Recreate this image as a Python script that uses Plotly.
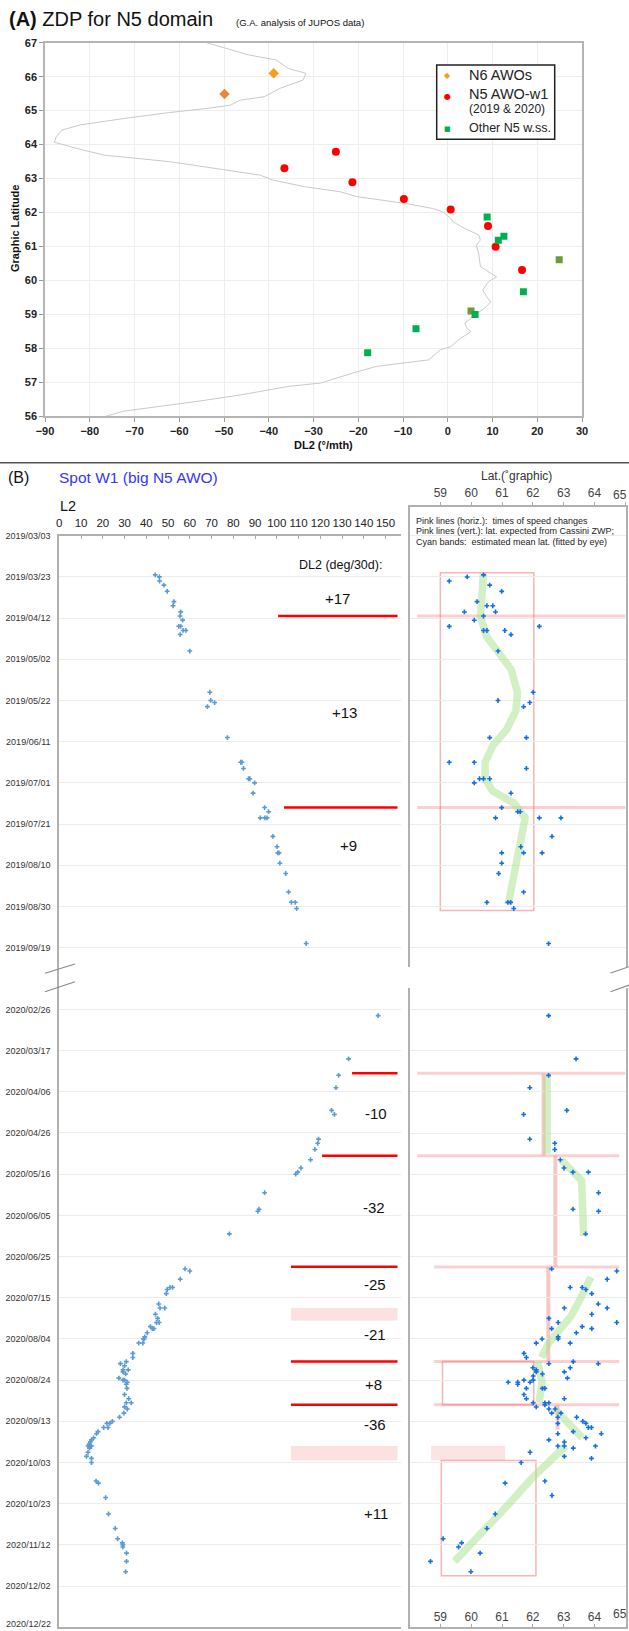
import plotly.graph_objects as go
from datetime import date

W, H = 629, 1631
FONT = "Liberation Sans, Arial, sans-serif"


def px(x):
    return x / W


def py(y):
    return 1 - y / H


# ---------------- Panel A data ----------------
zwp_dl2 = [-53.9, -48.1, -44.5, -38.3, -35.6, -31.7, -32.3, -37.4, -41.0, -46.3, -48.6, -53.5,
           -62.4, -72.3, -82.1, -86.2, -87.5, -87.9, -83.0, -76.8, -69.6, -62.4, -57.1, -49.9,
           -41.9, -39.2, -32.0, -24.0, -20.4, -15.0, -8.75, -3.4, -1.1, 0.65, 1.1, 3.8, 6.9, 7.3,
           6.4, 6.9, 7.3, 9.6, 10.9, 9.1, 7.8, 8.7, 9.6, 8.2, 6.0, 3.8, 4.3, 5.2, 2.9, 0.65, -1.6,
           -4.3, -10.5, -15.9, -21.3, -26.6, -28.4, -35.6, -46.3, -55.4, -64.0, -72.5, -76.4]
zwp_lat = [67.0, 66.78, 66.64, 66.49, 66.24, 66.10, 65.90, 65.66, 65.41, 65.31, 65.16, 65.07,
           64.94, 64.77, 64.58, 64.43, 64.23, 64.07, 63.89, 63.69, 63.59, 63.50, 63.40, 63.25,
           63.10, 62.96, 62.76, 62.61, 62.47, 62.37, 62.25, 62.12, 62.02, 61.83, 61.73, 61.53, 61.34, 61.19,
           61.04, 60.80, 60.41, 60.21, 60.11, 59.96, 59.72, 59.52, 59.37, 59.18, 58.98, 58.74, 58.59, 58.49, 58.30, 58.05, 57.96,
           57.66, 57.56, 57.47, 57.27, 57.07, 56.98, 56.88, 56.63, 56.45, 56.30, 56.15, 56.0]

n6_dl2 = [-38.9, -49.9]
n6_lat = [66.10, 65.49]
w1_dl2 = [-36.5, -25.0, -21.3, -9.8, 0.65, 9.0, 10.7, 16.6]
w1_lat = [63.30, 63.79, 62.89, 62.40, 62.09, 61.60, 60.99, 60.31]
oth_dl2 = [8.8, 11.3, 12.55, 24.9, 16.9, 5.2, 6.1, -7.1, -17.9]
oth_lat = [61.87, 61.18, 61.30, 60.61, 59.67, 59.10, 59.00, 58.58, 57.87]
oth_olive = [0, 0, 0, 1, 0, 1, 0, 0, 0]

legend_names = ["N6 AWOs", "N5 AWO-w1", "Other N5 w.ss."]

# ---------------- Panel B data ----------------
ticks_2019 = ["2019/03/03", "2019/03/23", "2019/04/12", "2019/05/02", "2019/05/22", "2019/06/11",
              "2019/07/01", "2019/07/21", "2019/08/10", "2019/08/30", "2019/09/19"]
ticks_2020 = ["2020/02/26", "2020/03/17", "2020/04/06", "2020/04/26", "2020/05/16", "2020/06/05",
              "2020/06/25", "2020/07/15", "2020/08/04", "2020/08/24", "2020/09/13", "2020/10/03",
              "2020/10/23", "2020/11/12", "2020/12/02", "2020/12/22"]
l2_ticks = [0, 10, 20, 30, 40, 50, 60, 70, 80, 90, 100, 110, 120, 130, 140, 150]
lat_ticks = [59, 60, 61, 62, 63, 64, 65]

l2_dates = ["2019-03-22", "2019-03-23", "2019-03-25", "2019-03-27", "2019-03-30", "2019-04-04",
            "2019-04-06", "2019-04-09", "2019-04-11", "2019-04-13", "2019-04-16", "2019-04-16",
            "2019-04-18", "2019-04-18", "2019-04-20", "2019-04-28", "2019-05-18", "2019-05-22",
            "2019-05-23", "2019-05-25", "2019-06-09", "2019-06-21", "2019-06-21", "2019-06-24",
            "2019-06-29", "2019-06-29", "2019-07-01", "2019-07-06", "2019-07-13", "2019-07-15",
            "2019-07-18", "2019-07-18", "2019-07-18", "2019-07-27", "2019-08-01", "2019-08-04",
            "2019-08-04", "2019-08-09", "2019-08-14", "2019-08-23", "2019-08-28", "2019-08-28",
            "2019-08-31", "2019-09-17",
            "2020-02-29", "2020-03-21", "2020-03-29", "2020-04-04", "2020-04-15", "2020-04-17",
            "2020-04-29", "2020-05-01", "2020-05-04", "2020-05-09", "2020-05-13", "2020-05-15",
            "2020-05-16", "2020-05-25", "2020-06-02", "2020-06-03", "2020-06-14", "2020-07-01",
            "2020-07-02", "2020-07-06", "2020-07-10", "2020-07-10", "2020-07-11", "2020-07-13",
            "2020-07-18", "2020-07-20", "2020-07-20", "2020-07-23", "2020-07-25", "2020-07-27",
            "2020-07-27", "2020-07-29", "2020-07-30", "2020-07-30", "2020-08-01", "2020-08-03",
            "2020-08-04", "2020-08-04", "2020-08-06", "2020-08-06", "2020-08-11", "2020-08-13",
            "2020-08-15", "2020-08-16", "2020-08-17", "2020-08-19", "2020-08-19", "2020-08-20",
            "2020-08-21", "2020-08-23", "2020-08-24", "2020-08-24", "2020-08-25", "2020-08-26",
            "2020-08-28", "2020-08-31", "2020-09-02", "2020-09-04", "2020-09-04", "2020-09-06",
            "2020-09-07", "2020-09-09", "2020-09-11", "2020-09-13", "2020-09-14", "2020-09-14",
            "2020-09-16", "2020-09-16", "2020-09-18", "2020-09-19", "2020-09-21", "2020-09-22",
            "2020-09-23", "2020-09-24", "2020-09-25", "2020-09-25", "2020-09-25", "2020-09-26",
            "2020-09-28", "2020-09-30", "2020-10-01", "2020-10-03", "2020-10-12", "2020-10-13",
            "2020-10-20", "2020-10-28", "2020-11-04", "2020-11-09", "2020-11-11", "2020-11-12",
            "2020-11-13", "2020-11-16", "2020-11-20", "2020-11-25"]
l2_vals = [44.1, 46.0, 46.1, 48.1, 49.6, 52.7,
           52.3, 55.8, 55.5, 56.7, 54.9, 55.8,
           56.9, 58.2, 55.6, 60.0, 69.2, 69.6,
           71.4, 68.1, 77.3, 83.4, 84.0, 84.7,
           87.0, 87.6, 89.8, 89.1, 94.4, 96.2,
           92.4, 94.5, 95.5, 98.2, 100.1, 100.5,
           101.0, 101.4, 104.1, 105.4, 106.7, 108.5,
           109.1, 113.5,
           146.6, 133.0, 128.4, 127.2, 125.2, 126.5,
           119.2, 118.8, 117.5, 115.5, 111.1, 109.6,
           108.7, 94.4, 91.8, 91.3, 78.2, 57.8,
           60.0, 55.6, 52.1, 50.9, 49.6, 49.2,
           45.7, 48.5, 46.3, 44.2, 45.2, 44.7,
           45.9, 41.9, 42.8, 43.5, 40.4, 39.3,
           38.7, 39.0, 36.5, 38.4, 33.8, 33.8,
           30.8, 28.1, 30.0, 29.3, 31.7, 29.3,
           30.5, 27.4, 29.3, 30.0, 31.3, 30.8,
           31.1, 30.0, 31.9, 33.1, 30.8, 30.0,
           31.3, 29.7, 27.7, 24.4, 23.2, 21.9,
           22.4, 20.4, 17.8, 17.1, 15.8, 14.8,
           14.3, 13.7, 14.3, 14.8, 13.2, 13.9,
           13.2, 12.5, 14.8, 14.8, 16.9, 18.0,
           21.3, 22.6, 25.7, 26.8, 29.0, 29.2,
           29.2, 30.9, 30.9, 30.5]

lat_dates = ["2019-03-22", "2019-03-23", "2019-03-25", "2019-03-27", "2019-03-30", "2019-04-04",
             "2019-04-06", "2019-04-06", "2019-04-09", "2019-04-09", "2019-04-11", "2019-04-13",
             "2019-04-16", "2019-04-16", "2019-04-18", "2019-04-18", "2019-04-18", "2019-04-20",
             "2019-04-28", "2019-05-18", "2019-05-22", "2019-05-23", "2019-05-25", "2019-06-09",
             "2019-06-09", "2019-06-21", "2019-06-21", "2019-06-24", "2019-06-29", "2019-06-29",
             "2019-06-29", "2019-07-01", "2019-07-06", "2019-07-13", "2019-07-15", "2019-07-15",
             "2019-07-18", "2019-07-18", "2019-07-18", "2019-07-27", "2019-08-01", "2019-08-04",
             "2019-08-04", "2019-08-04", "2019-08-09", "2019-08-14", "2019-08-23", "2019-08-28",
             "2019-08-28", "2019-08-28", "2019-08-31", "2019-09-17",
             "2020-02-29", "2020-03-21", "2020-03-29", "2020-04-04", "2020-04-15", "2020-04-17",
             "2020-04-29", "2020-05-01", "2020-05-04", "2020-05-09", "2020-05-13", "2020-05-15",
             "2020-05-15", "2020-05-25", "2020-06-02", "2020-06-03", "2020-06-14", "2020-07-01",
             "2020-07-02", "2020-07-06", "2020-07-10", "2020-07-10", "2020-07-11", "2020-07-13",
             "2020-07-18", "2020-07-20", "2020-07-20", "2020-07-23", "2020-07-25", "2020-07-27",
             "2020-07-27", "2020-07-29", "2020-07-30", "2020-07-30", "2020-08-01", "2020-08-03",
             "2020-08-04", "2020-08-04", "2020-08-06", "2020-08-06", "2020-08-11", "2020-08-13",
             "2020-08-15", "2020-08-16", "2020-08-16", "2020-08-18", "2020-08-18", "2020-08-19",
             "2020-08-20", "2020-08-20", "2020-08-21", "2020-08-22", "2020-08-23", "2020-08-24",
             "2020-08-24", "2020-08-25", "2020-08-25", "2020-08-25", "2020-08-26", "2020-08-28",
             "2020-08-28", "2020-08-28", "2020-08-31", "2020-09-02", "2020-09-02", "2020-09-04",
             "2020-09-04", "2020-09-04", "2020-09-05", "2020-09-06", "2020-09-07", "2020-09-07",
             "2020-09-09", "2020-09-09", "2020-09-11", "2020-09-11", "2020-09-13", "2020-09-14",
             "2020-09-14", "2020-09-16", "2020-09-16", "2020-09-18", "2020-09-19", "2020-09-19",
             "2020-09-21", "2020-09-22", "2020-09-23", "2020-09-25", "2020-09-25", "2020-09-25",
             "2020-09-26", "2020-09-28", "2020-09-30", "2020-10-01", "2020-10-03", "2020-10-12",
             "2020-10-13", "2020-10-19", "2020-10-28", "2020-11-04", "2020-11-09", "2020-11-11",
             "2020-11-13", "2020-11-16", "2020-11-20", "2020-11-25"]
lat_vals = [60.40, 59.87, 59.29, 60.60, 60.99, 60.19,
            60.51, 60.70, 59.78, 60.79, 60.40, 60.10,
            59.29, 62.21, 60.40, 60.51, 61.09, 61.29,
            60.87, 62.01, 60.87, 61.90, 61.70, 60.60,
            61.79, 59.29, 60.10, 61.79, 60.27, 60.40,
            60.60, 60.10, 61.29, 60.99, 61.51, 61.59,
            60.79, 62.21, 62.91, 62.62, 61.61, 60.99,
            61.70, 62.30, 60.99, 60.89, 61.70, 60.51,
            61.19, 61.28, 61.38, 62.51,
            62.51, 63.40, 62.51, 61.90, 63.10, 61.70,
            61.90, 62.71, 62.71, 62.89, 63.01, 63.30,
            63.80, 64.13, 63.30, 64.13, 63.71, 62.61,
            64.72, 64.41, 63.21, 63.60, 63.72, 63.91,
            64.12, 63.02, 64.41, 63.91, 62.52, 62.82,
            64.72, 63.60, 62.61, 63.91, 63.41, 62.82,
            62.82, 62.30, 62.11, 63.21, 61.71, 61.79,
            63.31, 62.52, 64.12, 62.00, 63.21, 62.11,
            62.11, 63.02, 62.31, 62.01, 63.12, 61.71,
            62.01, 61.91, 61.20, 61.51, 61.51, 61.79,
            62.31, 62.39, 61.71, 61.79, 63.02, 62.01,
            62.39, 62.52, 62.39, 62.11, 62.52, 62.72,
            62.61, 62.91, 62.81, 63.42, 63.62, 62.81,
            63.72, 63.80, 63.90, 63.31, 64.22, 62.81,
            63.72, 62.52, 63.02, 62.81, 63.02, 64.03,
            63.31, 61.91, 63.02, 63.90, 61.62, 62.39,
            61.10, 62.62, 60.78, 60.51, 59.09, 59.69,
            59.59, 60.29, 58.68, 59.99]

# times of speed changes (pink horizontal lines) and speed labels
change_dates = ["2019-04-11", "2019-07-13", "2020-03-28", "2020-05-07", "2020-06-30", "2020-08-15", "2020-09-05"]
uncertain_changes = [("2020-07-20", "2020-07-26"), ("2020-09-25", "2020-10-02")]
speed_labels = ["+17", "+13", "+9", "-10", "-32", "-25", "-21", "+8", "-36", "+11"]

# expected latitude from Cassini ZWP (pink vertical lines)
zwp_expect_lat = [62.35, 62.73, 62.5, 62.8]
zwp_expect_from = ["2020-03-28", "2020-05-07", "2020-06-30", "2020-09-05"]
zwp_expect_to = ["2020-05-07", "2020-06-30", "2020-08-15", "2020-09-17"]

# estimated mean latitude bands (fitted by eye)
band_dates = [
    ["2019-03-21", "2019-04-11", "2019-04-21", "2019-04-29", "2019-05-07", "2019-05-18", "2019-05-27",
     "2019-06-05", "2019-06-13", "2019-06-21", "2019-06-29", "2019-07-05", "2019-07-11", "2019-07-18",
     "2019-08-29"],
    ["2020-03-29", "2020-05-06"],
    ["2020-05-09", "2020-05-19", "2020-06-15"],
    ["2020-07-05", "2020-07-12", "2020-07-17", "2020-07-24", "2020-07-31", "2020-08-06", "2020-08-13"],
    ["2020-08-15", "2020-08-25", "2020-09-04"],
    ["2020-09-07", "2020-09-21"],
    ["2020-09-25", "2020-10-10", "2020-10-23", "2020-11-05", "2020-11-20"],
]
band_lats = [
    [60.4, 60.3, 60.5, 60.9, 61.3, 61.5, 61.45, 61.15, 60.7, 60.45, 60.45, 60.7, 61.4, 61.75, 61.2],
    [62.46, 62.46],
    [62.92, 63.58, 63.65],
    [63.88, 63.69, 63.49, 63.23, 62.83, 62.51, 62.28],
    [62.15, 62.3, 62.2],
    [62.72, 63.6],
    [63.06, 62.01, 61.23, 60.44, 59.46],
]

# ---------------- helpers ----------------
B19 = date(2019, 3, 3)
B20 = date(2020, 2, 26)
GAP = 230  # plotted position of 2020/02/26 on the broken time axis


def to_pos(s):
    y, m, d = (int(v) for v in s.replace("/", "-").split("-"))
    dd = date(y, m, d)
    return (dd - B19).days if y == 2019 else GAP + (dd - B20).days


tick_text = ticks_2019 + ticks_2020
tick_vals = [to_pos(t) for t in tick_text]
# the last date label sits on the figure's bottom edge: drawn as a nudged annotation instead
tick_text_axis = tick_text[:-1] + [""]
lat_text_axis = [str(v) for v in lat_ticks[:-1]] + [""]

fig = go.Figure()

# ---------- Panel A traces ----------
N6_COL = ["#f5a01a", "#ec8638"]
W1_COL = "#ff0000"
OTH_COL = ["#6b9a3a" if o else "#00b050" for o in oth_olive]
fig.add_trace(go.Scatter(x=zwp_dl2, y=zwp_lat, mode="lines", line=dict(color="#c9c9c9", width=1),
                         xaxis="x", yaxis="y", hoverinfo="skip"))
fig.add_trace(go.Scatter(x=n6_dl2, y=n6_lat, mode="markers", name=legend_names[0],
                         marker=dict(symbol="diamond", size=8, color=N6_COL), xaxis="x", yaxis="y"))
fig.add_trace(go.Scatter(x=w1_dl2, y=w1_lat, mode="markers", name=legend_names[1],
                         marker=dict(symbol="circle", size=8, color=W1_COL), xaxis="x", yaxis="y"))
fig.add_trace(go.Scatter(x=oth_dl2, y=oth_lat, mode="markers", name=legend_names[2],
                         marker=dict(symbol="square", size=7, color=OTH_COL), xaxis="x", yaxis="y"))

# ---------- Panel B right: bands ----------
for bd, bl in zip(band_dates, band_lats):
    fig.add_trace(go.Scatter(x=bl, y=[to_pos(d) for d in bd], mode="lines",
                             line=dict(color="rgba(168,225,140,0.5)", width=7.5),
                             xaxis="x3", yaxis="y3", hoverinfo="skip"))

# dots
fig.add_trace(go.Scatter(x=l2_vals, y=[to_pos(d) for d in l2_dates], mode="markers",
                         marker=dict(symbol="cross", size=4, color="#5b9bd5"), xaxis="x2", yaxis="y2"))
fig.add_trace(go.Scatter(x=lat_vals, y=[to_pos(d) for d in lat_dates], mode="markers",
                         marker=dict(symbol="cross", size=4, color="#1470e0"), xaxis="x3", yaxis="y3"))
fig.add_trace(go.Scatter(x=[None], y=[None], xaxis="x4", yaxis="y3"))

shapes = []
# red lines in left panel
red_x0 = [100.6, 103.3, 134.6, 120.8, 106.5, 106.5, 106.5]
for d, x0 in zip(change_dates, red_x0):
    p = to_pos(d)
    shapes.append(dict(type="line", xref="x2", yref="y2", x0=x0, x1=155.5, y0=p, y1=p,
                       line=dict(color="#ff0000", width=2.5)))
for a, b in uncertain_changes:
    shapes.append(dict(type="rect", xref="x2", yref="y2", x0=106.5, x1=155.5, y0=to_pos(a), y1=to_pos(b),
                       fillcolor="#fde0e0", line=dict(width=0), layer="below"))

# right panel pink horizontal lines
hx = [(58.25, 65), (58.25, 65), (58.25, 65), (58.25, 64.8), (58.8, 64.8), (58.8, 64.8), (58.8, 64.8)]
for d, (a, b) in zip(change_dates, hx):
    p = to_pos(d)
    shapes.append(dict(type="line", xref="x3", yref="y3", x0=a, x1=b, y0=p, y1=p,
                       line=dict(color="rgba(244,150,150,0.45)", width=3), layer="below"))
shapes.append(dict(type="rect", xref="x3", yref="y3", x0=58.7, x1=61.1,
                   y0=to_pos(uncertain_changes[1][0]), y1=to_pos(uncertain_changes[1][1]),
                   fillcolor="rgba(252,212,212,0.65)", line=dict(width=0), layer="below"))
# boxes
for (a, b, d0, d1) in [(59.0, 62.03, "2019-03-21", "2019-09-01"),
                       (59.07, 62.03, "2020-08-15", "2020-09-05"),
                       (59.03, 62.1, "2020-10-02", "2020-11-27")]:
    shapes.append(dict(type="rect", xref="x3", yref="y3", x0=a, x1=b, y0=to_pos(d0), y1=to_pos(d1),
                       line=dict(color="rgba(240,120,120,0.55)", width=1.5), layer="below"))
# vertical expected lat lines
for la, d0, d1 in zip(zwp_expect_lat, zwp_expect_from, zwp_expect_to):
    shapes.append(dict(type="line", xref="x3", yref="y3", x0=la, x1=la, y0=to_pos(d0), y1=to_pos(d1),
                       line=dict(color="rgba(245,160,160,0.6)", width=4), layer="below"))

# separator line
shapes.append(dict(type="line", xref="paper", yref="paper", x0=0, x1=1, y0=py(462.7), y1=py(462.7),
                   line=dict(color="#555555", width=1.5)))
# break: gaps in right panel borders + slashes
for xa, xb in [(404, 415), (620, 629)]:
    shapes.append(dict(type="rect", xref="paper", yref="paper", x0=px(xa), x1=px(xb), y0=py(988),
                       y1=py(967), fillcolor="white", line=dict(width=0)))
for (xa, ya, xb, yb) in [(45, 973.3, 75, 964), (45, 991.7, 75, 981.7),
                         (610.5, 973, 629, 966.7), (610.5, 991.7, 629, 985)]:
    shapes.append(dict(type="line", xref="paper", yref="paper", x0=px(xa), y0=py(ya), x1=px(xb), y1=py(yb),
                       line=dict(color="#8a8a8a", width=1.2)))
# legend box of panel A
shapes.append(dict(type="rect", xref="paper", yref="paper", x0=px(436.7), x1=px(554.7), y0=py(139.3),
                   y1=py(65), fillcolor="white", line=dict(color="#222", width=1.5)))

ann = []


def A(x, y, text, size, color="#111", xanchor="center", bold=False, angle=0, family=FONT, yanchor="middle"):
    ann.append(dict(x=px(x), y=py(y), xref="paper", yref="paper", text=text, showarrow=False,
                    xanchor=xanchor, yanchor=yanchor, textangle=angle,
                    font=dict(family=family, size=size, color=color, weight="bold" if bold else "normal")))


A(7, 19, "<b>(A)</b> ZDP for N5 domain", 20, xanchor="left")
A(234, 22, "(G.A. analysis of JUPOS data)", 9.5, xanchor="left")
A(15, 229, "Graphic Latitude", 11, bold=True, angle=-90)
A(323, 445, "DL2 (°/mth)", 11, bold=True)

# legend entries (panel A)
SYM = "DejaVu Sans, sans-serif"
A(448, 75.3, "◆", 8, color=N6_COL[0], family=SYM)
A(448, 96.5, "●", 8, color=W1_COL, family=SYM)
A(448, 128.7, "■", 7, color=OTH_COL[0], family=SYM)
A(467, 75.3, legend_names[0], 14.5, color="#222", xanchor="left")
A(467, 94.5, legend_names[1], 14.5, color="#222", xanchor="left")
A(467, 109.5, "(2019 &amp; 2020)", 12, color="#222", xanchor="left")
A(467, 128.5, legend_names[2], 12.5, color="#222", xanchor="left")

A(6, 477.5, "(B)", 16, xanchor="left")
A(57, 477, "Spot W1 (big N5 AWO)", 15.5, color="#3535ff", xanchor="left")
A(516.7, 476, "Lat.(˚graphic)", 12, color="#333")
A(58, 506.5, "L2", 14.5, xanchor="left")
A(414, 521, "Pink lines (horiz.):  times of speed changes", 9, color="#222", xanchor="left")
A(414, 531.3, "Pink lines (vert.): lat. expected from Cassini ZWP;", 9, color="#222", xanchor="left")
A(414, 541.7, "Cyan bands:  estimated mean lat. (fitted by eye)", 9, color="#222", xanchor="left")
A(340, 565, "DL2 (deg/30d):", 12.5, color="#111")
label_px = [(337, 598), (344, 712), (349, 845), (376, 1113), (374, 1207), (375, 1284), (375, 1334),
            (373, 1384), (375, 1424), (376, 1513)]
for t, (x, y) in zip(speed_labels, label_px):
    A(x, y, t, 15, color="#111")
# edge labels kept fully inside the picture
A(53, 1630.5, tick_text[-1], 9, color="#333", xanchor="right", yanchor="bottom")
A(628.5, 495.5, str(lat_ticks[-1]), 12, color="#444", xanchor="right")
A(628.5, 1614, str(lat_ticks[-1]), 12, color="#444", xanchor="right")

tickfontA = dict(family=FONT, size=11, color="#222", weight="bold")
fig.update_traces(showlegend=False)
fig.update_layout(
    width=W, height=H, margin=dict(l=0, r=0, t=0, b=0, autoexpand=False),
    paper_bgcolor="white", plot_bgcolor="white",
    font=dict(family=FONT),
    showlegend=False,
    xaxis=dict(domain=[px(45), px(582)], range=[-90, 30], dtick=10, anchor="y", automargin=False,
               showgrid=True, gridcolor="#eeeeee", zeroline=False, showline=True, mirror=True,
               linecolor="#b5b5b5", linewidth=1.5, ticks="outside", ticklen=4, tickcolor="#999",
               tickfont=tickfontA),
    yaxis=dict(domain=[py(416.3), py(42.7)], range=[56, 67], dtick=1, anchor="x", automargin=False,
               showgrid=True, gridcolor="#eeeeee", zeroline=False, showline=True, mirror=True,
               linecolor="#b5b5b5", linewidth=1.5, ticks="outside", ticklen=4, tickcolor="#999",
               tickfont=tickfontA),
    xaxis2=dict(domain=[px(59.3), px(401)], range=[0, 157.1], anchor="y2", side="top", automargin=False,
                tickvals=l2_ticks, ticks="inside", ticklen=3, tickcolor="#aaa",
                showgrid=False, zeroline=False, showline=True, mirror=True, linecolor="#b0b0b0",
                linewidth=2, tickfont=dict(family=FONT, size=11.5, color="#222"), ticklabelstandoff=2),
    yaxis2=dict(domain=[py(1627.3), py(535.7)], range=[530, 0], anchor="x2", automargin=False,
                tickvals=tick_vals, ticktext=tick_text_axis, ticks="", showgrid=True, gridcolor="#ececec",
                zeroline=False, showline=True, linecolor="#b0b0b0", linewidth=2,
                tickfont=dict(family=FONT, size=9, color="#333"), ticklabelstandoff=5),
    xaxis3=dict(domain=[px(409.5), px(626)], range=[58, 65.02], anchor="y3", side="top", automargin=False,
                tickvals=lat_ticks, ticktext=lat_text_axis, ticks="outside", ticklen=3, tickcolor="#aaa",
                showgrid=False, zeroline=False, showline=True, mirror=True, linecolor="#b0b0b0",
                linewidth=2, tickfont=dict(family=FONT, size=12, color="#444")),
    xaxis4=dict(domain=[px(409.5), px(626)], range=[58, 65.02], anchor="y3", side="bottom",
                overlaying="x3", tickvals=lat_ticks, ticktext=lat_text_axis, ticks="inside", ticklen=3,
                tickcolor="#aaa", automargin=False,
                ticklabelposition="inside", showgrid=False, zeroline=False, showline=False,
                tickfont=dict(family=FONT, size=12, color="#444")),
    yaxis3=dict(domain=[py(1627.3), py(506.7)], range=[530, -14.1], anchor="x3", automargin=False,
                tickvals=tick_vals, showticklabels=False, ticks="", showgrid=True, gridcolor="#ececec",
                zeroline=False, showline=True, mirror=True, linecolor="#b0b0b0", linewidth=2),
    shapes=shapes, annotations=ann,
)

# remove the browser's default 8px page margin so the 629x1631 figure fills the window exactly
fig.write_html("out.html", config={"displayModeBar": False},
               post_script="document.body.style.margin='0';document.body.style.overflow='hidden';")
